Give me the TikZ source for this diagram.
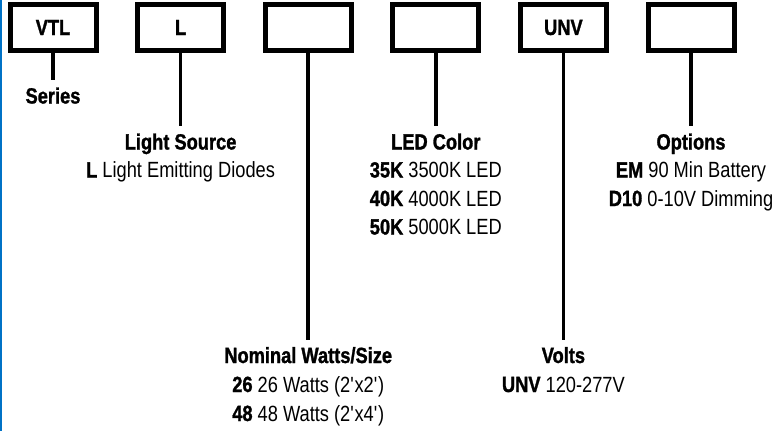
\documentclass[tikz,border=0pt]{standalone}
\usepackage{fontspec}
\setmainfont[FakeStretch=0.83, BoldFeatures={FakeBold=1.3}]{Liberation Sans}
\definecolor{edgeblue}{RGB}{0,114,198}
\begin{document}
\begin{tikzpicture}[x=1pt,y=-1pt,
  codebox/.style={draw, line width=5pt, minimum width=86pt, minimum height=45.5pt, inner sep=0pt, font=\fontsize{22}{22}\selectfont\bfseries},
  conn/.style={line width=3.5pt},
  ttl/.style={anchor=base, inner sep=0pt, font=\fontsize{22}{22}\selectfont\bfseries},
  item/.style={anchor=base, inner sep=0pt, font=\fontsize{22}{22}\selectfont}]
\useasboundingbox (0,0) rectangle (778,431);
\fill[edgeblue] (0,0) rectangle (1.5,431);
% code boxes
\node[codebox] (b1) at (53,27.5) {VTL};
\node[codebox] (b2) at (180.6,27.5) {L};
\node[codebox] (b3) at (308.2,27.5) {};
\node[codebox] (b4) at (435.8,27.5) {};
\node[codebox] (b5) at (563.4,27.5) {UNV};
\node[codebox] (b6) at (691,27.5) {};
% labels
\node[ttl] (t1) at (53,103.5) {Series};
\node[ttl] (t2) at (180.6,149.5) {Light Source};
\node[item] (t2a) at (180.6,177.5) {\textbf{L} Light Emitting Diodes};
\node[ttl] (t3) at (308.2,363) {Nominal Watts/Size};
\node[item] (t3a) at (308.2,392) {\textbf{26} 26 Watts (2\textquotesingle x2\textquotesingle)};
\node[item] (t3b) at (308.2,421) {\textbf{48} 48 Watts (2\textquotesingle x4\textquotesingle)};
\node[ttl] (t4) at (435.8,149.5) {LED Color};
\node[item] (t4a) at (435.8,177.5) {\textbf{35K} 3500K LED};
\node[item] (t4b) at (435.8,206) {\textbf{40K} 4000K LED};
\node[item] (t4c) at (435.8,234.5) {\textbf{50K} 5000K LED};
\node[ttl] (t5) at (563.4,363) {Volts};
\node[item] (t5a) at (563.4,392) {\textbf{UNV} 120-277V};
\node[ttl] (t6) at (691,149.5) {Options};
\node[item] (t6a) at (691,177.5) {\textbf{EM} 90 Min Battery};
\node[item] (t6b) at (691,206) {\textbf{D10} 0-10V Dimming};
% connectors
\draw[conn] (b1.south) -- ([yshift=7pt]t1.north);
\draw[conn] (b2.south) -- ([yshift=7pt]t2.north);
\draw[conn] (b3.south) -- ([yshift=7pt]t3.north);
\draw[conn] (b4.south) -- ([yshift=7pt]t4.north);
\draw[conn] (b5.south) -- ([yshift=7pt]t5.north);
\draw[conn] (b6.south) -- ([yshift=7pt]t6.north);
\end{tikzpicture}
\end{document}
